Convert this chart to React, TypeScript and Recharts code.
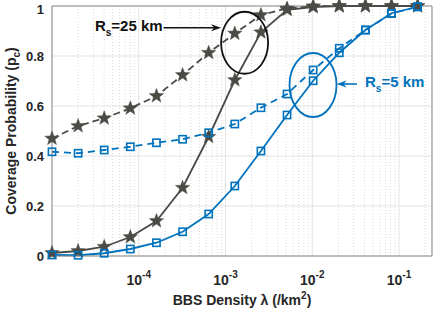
import { LineChart, Line, XAxis, YAxis, CartesianGrid, ReferenceLine, ReferenceDot } from "recharts";

// BBS density (per km^2), one point per doubling
const DENSITY = [1e-5, 2e-5, 4e-5, 8e-5, 1.6e-4, 3.2e-4, 6.4e-4, 1.28e-3, 2.56e-3, 5.12e-3, 1.024e-2, 2.048e-2, 4.096e-2, 8.192e-2, 0.16384];

// Rs = 25 km
const R25_SOLID = [0.012, 0.02, 0.037, 0.076, 0.14, 0.273, 0.477, 0.704, 0.895, 0.985, 0.996, 1, 1, 1, 1];
const R25_DASHED = [0.47, 0.52, 0.551, 0.591, 0.64, 0.724, 0.813, 0.89, 0.964, 0.99, 0.999, 1, 1, 1, 1];
// Rs = 5 km
const R5_SOLID = [0.004, 0.003, 0.011, 0.028, 0.053, 0.097, 0.168, 0.28, 0.42, 0.564, 0.701, 0.813, 0.904, 0.971, 0.997];
const R5_DASHED = [0.417, 0.411, 0.424, 0.437, 0.453, 0.467, 0.493, 0.528, 0.593, 0.648, 0.744, 0.831, 0.904, 0.97, 0.997];

const X_TICKS = [1e-4, 1e-3, 1e-2, 1e-1];
const Y_TICKS = [0, 0.2, 0.4, 0.6, 0.8, 1];
const X_DOMAIN = [1e-5, 0.24];

const GRAY = "#4b4b46";
const BLUE = "#0072BD";
const TEXT = "#262626";
const FONT = "'Liberation Sans', Arial, sans-serif";

const data = DENSITY.map((x, i) => ({
  x,
  r25s: R25_SOLID[i],
  r25d: R25_DASHED[i],
  r5s: R5_SOLID[i],
  r5d: R5_DASHED[i],
}));

// minor log gridlines 2..9 x each decade
const MINOR: number[] = [];
for (let d = -5; d <= -1; d++) {
  for (let m = 2; m <= 9; m++) {
    const v = m * Math.pow(10, d);
    if (v < X_DOMAIN[1]) MINOR.push(v);
  }
}

function starPoints(cx: number, cy: number, ro: number, ri: number) {
  const pts: string[] = [];
  for (let i = 0; i < 10; i++) {
    const r = i % 2 === 0 ? ro : ri;
    const a = -Math.PI / 2 + (i * Math.PI) / 5;
    pts.push(`${cx + r * Math.cos(a)},${cy + r * Math.sin(a)}`);
  }
  return pts.join(" ");
}

const StarDot = (p: any) => (
  <polygon key={`st-${p.dataKey}-${p.index}`} points={starPoints(p.cx, p.cy, 7.5, 3.1)} fill={GRAY} stroke={GRAY} strokeWidth={0.5} />
);

const SquareDot = (p: any) => (
  <rect key={`sq-${p.dataKey}-${p.index}`} x={p.cx - 3.6} y={p.cy - 3.6} width={7.2} height={7.2} fill="none" stroke={BLUE} strokeWidth={1.6} />
);

const XTick = ({ x, y, payload }: any) => {
  const exp = Math.round(Math.log10(payload.value));
  return (
    <text x={x} y={y + 19} textAnchor="middle" fontFamily={FONT} fontWeight="bold" fontSize={14} fill={TEXT}>
      <tspan>10</tspan>
      <tspan dy={-7} fontSize={10}>{exp}</tspan>
    </text>
  );
};

const YTick = ({ y, payload }: any) => (
  <text x={44} y={y} dy="0.36em" textAnchor="end" fontFamily={FONT} fontWeight="bold" fontSize={13} fill={TEXT}>
    {String(payload.value)}
  </text>
);

const XLabel = () => (
  <text x={242} y={305} textAnchor="middle" fontFamily={FONT} fontWeight="bold" fontSize={14} fill={TEXT}>
    <tspan>BBS Density λ (/km</tspan>
    <tspan dy={-6} fontSize={10}>2</tspan>
    <tspan dy={6}>)</tspan>
  </text>
);

const YLabel = () => (
  <text x={0} y={0} transform="translate(16,131) rotate(-90)" textAnchor="middle" fontFamily={FONT} fontWeight="bold" fontSize={14} fill={TEXT}>
    <tspan>Coverage Probability (p</tspan>
    <tspan dy={4} fontSize={10}>c</tspan>
    <tspan dy={-4}>)</tspan>
  </text>
);

const Arrow = ({ x1, x2, y, color }: { x1: number; x2: number; y: number; color: string }) => {
  const dir = x2 > x1 ? 1 : -1;
  return (
    <g>
      <line x1={x1} y1={y} x2={x2 - dir * 5} y2={y} stroke={color} strokeWidth={1.6} />
      <polygon points={`${x2},${y} ${x2 - dir * 10},${y - 3.5} ${x2 - dir * 7},${y} ${x2 - dir * 10},${y + 3.5}`} fill={color} />
    </g>
  );
};

const Note25 = ({ cx, cy }: any) => (
  <g>
    <ellipse cx={cx} cy={cy} rx={23.5} ry={31} fill="none" stroke="#111" strokeWidth={1.8} />
    <Arrow x1={cx - 81} x2={cx - 23.5} y={cy - 15} color="#111" />
    <text x={cx - 82} y={cy - 12} textAnchor="end" fontFamily={FONT} fontWeight="bold" fontSize={15} fill="#111">
      <tspan>R</tspan>
      <tspan dy={5} fontSize={10}>s</tspan>
      <tspan dy={-5}>=25 km</tspan>
    </text>
  </g>
);

const Note5 = ({ cx, cy }: any) => (
  <g>
    <ellipse cx={cx} cy={cy} rx={23.5} ry={32} fill="none" stroke={BLUE} strokeWidth={1.8} />
    <Arrow x1={cx + 44} x2={cx + 23.5} y={cy - 1} color={BLUE} />
    <text x={cx + 52} y={cy + 2} textAnchor="start" fontFamily={FONT} fontWeight="bold" fontSize={15} fill={BLUE}>
      <tspan>R</tspan>
      <tspan dy={5} fontSize={10}>s</tspan>
      <tspan dy={-5}>=5 km</tspan>
    </text>
  </g>
);

export default function App() {
  return (
    <div style={{ position: "absolute", left: 0, top: 0, width: 436, height: 310, background: "#fff" }}>
      <LineChart width={436} height={310} data={data} margin={{ top: 6, right: 4, bottom: 0, left: 0 }}>
        <CartesianGrid stroke="#e3e3e3" strokeWidth={1} />
        {MINOR.map((v) => (
          <ReferenceLine key={v} x={v} stroke="#cfcfcf" strokeDasharray="1 2" strokeWidth={0.8} />
        ))}
        <ReferenceLine y={1} stroke="#8c8c8c" strokeWidth={1} />
        <ReferenceLine x={X_DOMAIN[1]} stroke="#8c8c8c" strokeWidth={1} />
        <XAxis
          dataKey="x"
          type="number"
          scale="log"
          domain={X_DOMAIN}
          ticks={X_TICKS}
          tick={<XTick />}
          tickLine={false}
          tickSize={8}
          tickMargin={2}
          axisLine={{ stroke: "#8c8c8c" }}
          height={54}
          label={{ content: () => <XLabel /> }}
        />
        <YAxis
          type="number"
          domain={[0, 1]}
          ticks={Y_TICKS}
          tick={<YTick />}
          tickLine={false}
          axisLine={{ stroke: "#8c8c8c" }}
          width={52}
          label={{ content: () => <YLabel /> }}
        />
        <Line dataKey="r25d" stroke={GRAY} strokeWidth={1.8} strokeDasharray="7 4" dot={StarDot} isAnimationActive={false} />
        <Line dataKey="r25s" stroke={GRAY} strokeWidth={1.8} dot={StarDot} isAnimationActive={false} />
        <Line dataKey="r5d" stroke={BLUE} strokeWidth={1.8} strokeDasharray="7 5" dot={SquareDot} isAnimationActive={false} />
        <Line dataKey="r5s" stroke={BLUE} strokeWidth={1.8} dot={SquareDot} isAnimationActive={false} />
        <ReferenceDot x={1.66e-3} y={0.853} r={0} shape={(p: any) => <Note25 cx={p.cx} cy={p.cy} />} />
        <ReferenceDot x={1.02e-2} y={0.684} r={0} shape={(p: any) => <Note5 cx={p.cx} cy={p.cy} />} />
      </LineChart>
    </div>
  );
}
